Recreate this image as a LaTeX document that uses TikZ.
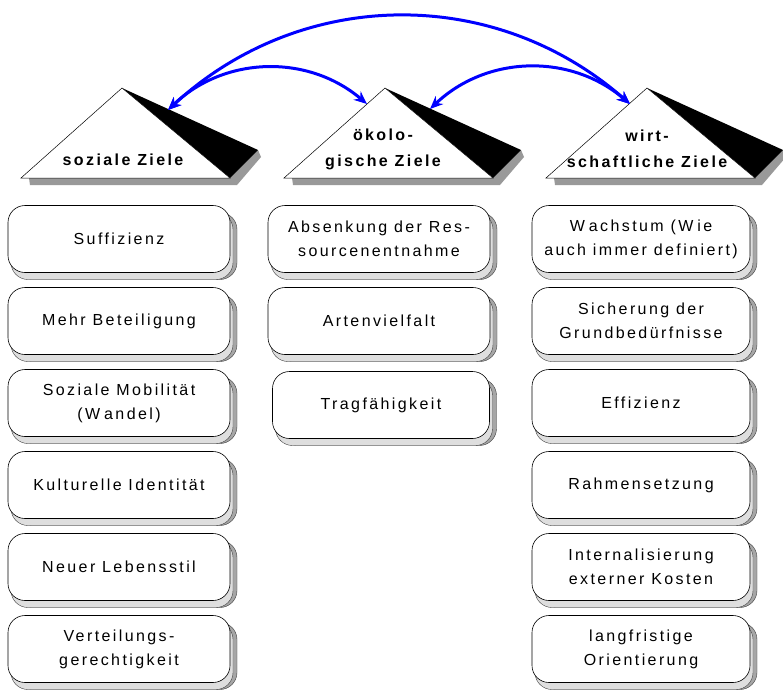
\documentclass[tikz,border=0pt]{standalone}
\usepackage{fontspec}
\setmainfont{Liberation Sans}[LetterSpace=15]
\usetikzlibrary{arrows.meta,shadows}

\tikzset{
  ziel/.style={draw, fill=white, line width=0.6pt, rounded corners=17pt,
    minimum width=222pt, minimum height=67pt, align=center, inner sep=2pt,
    copy shadow={shadow xshift=7pt, shadow yshift=-7pt, fill=black!35, draw=black!75, line width=0.4pt},
    copy shadow={shadow xshift=3pt, shadow yshift=-7pt, fill=black!13, draw=black!75, line width=0.4pt}},
  dachtext/.style={font=\fontsize{16}{26}\selectfont\bfseries, align=center},
  pfeil/.style={<->, >={Stealth[length=13pt,width=11pt]}, blue, line width=3pt},
}

\begin{document}
\begin{tikzpicture}[x=1pt, y=-1pt, font=\fontsize{16}{24}\selectfont]
\useasboundingbox (0,0) rectangle (783,689);

% Dreiecke
\foreach \a in {122,385,647} {
  \fill[black!40] (\a-93,178) -- (\a-92,185) -- (\a+115,185) -- (\a+139,157) -- (\a+136,150) -- (\a+108,178) -- cycle;
  \fill (\a,88) -- (\a+136,150) -- (\a+108,178) -- cycle;
  \draw[fill=white, line width=0.5pt] (\a,88) -- (\a-101,178) -- (\a+108,178) -- cycle;
}
\node[dachtext] (soz) at (123,160) {soziale Ziele};
\node[dachtext] (oeko) at (383,149) {ökolo-\\gische Ziele};
\node[dachtext] (wirt) at (647,149) {wirt-\\schaftliche Ziele};

% soziale Ziele
\node[ziel] (soz1) at (119,239) {Suffizienz};
\node[ziel] (soz2) at (119,321) {Mehr Beteiligung};
\node[ziel] (soz3) at (119,403) {Soziale Mobilität\\(W\kern4pt andel)};
\node[ziel] (soz4) at (119,485) {Kulturelle Identität};
\node[ziel] (soz5) at (119,567) {Neuer Lebensstil};
\node[ziel] (soz6) at (119,649) {Verteilungs-\\gerechtigkeit};

% oekologische Ziele
\node[ziel] (oeko1) at (379,239) {Absenkung der Res-\\sourcenentnahme};
\node[ziel] (oeko2) at (379,321) {Artenvielfalt};
\node[ziel, minimum width=217pt] (oeko3) at (381,405) {Tragfähigkeit};

% wirtschaftliche Ziele
\node[ziel, minimum width=218pt] (wirt1) at (641,239) {W\kern4pt achstum (W\kern4pt ie\\auch immer definiert)};
\node[ziel, minimum width=218pt] (wirt2) at (641,321) {Sicherung der\\Grundbedürfnisse};
\node[ziel, minimum width=218pt] (wirt3) at (641,403) {Effizienz};
\node[ziel, minimum width=218pt] (wirt4) at (641,485) {Rahmensetzung};
\node[ziel, minimum width=218pt] (wirt5) at (641,567) {Internalisierung\\externer Kosten};
\node[ziel, minimum width=218pt] (wirt6) at (641,649) {langfristige\\Orientierung};

% Pfeile
\coordinate (soz-r) at (168,110);
\coordinate (oeko-l) at (367,104);
\coordinate (oeko-r) at (430,109);
\coordinate (wirt-l) at (630,104);
\draw[pfeil] (soz-r) to[bend left=42] (wirt-l);
\draw[pfeil] (soz-r) to[bend left=42] (oeko-l);
\draw[pfeil] (oeko-r) to[bend left=42] (wirt-l);
\end{tikzpicture}
\end{document}
